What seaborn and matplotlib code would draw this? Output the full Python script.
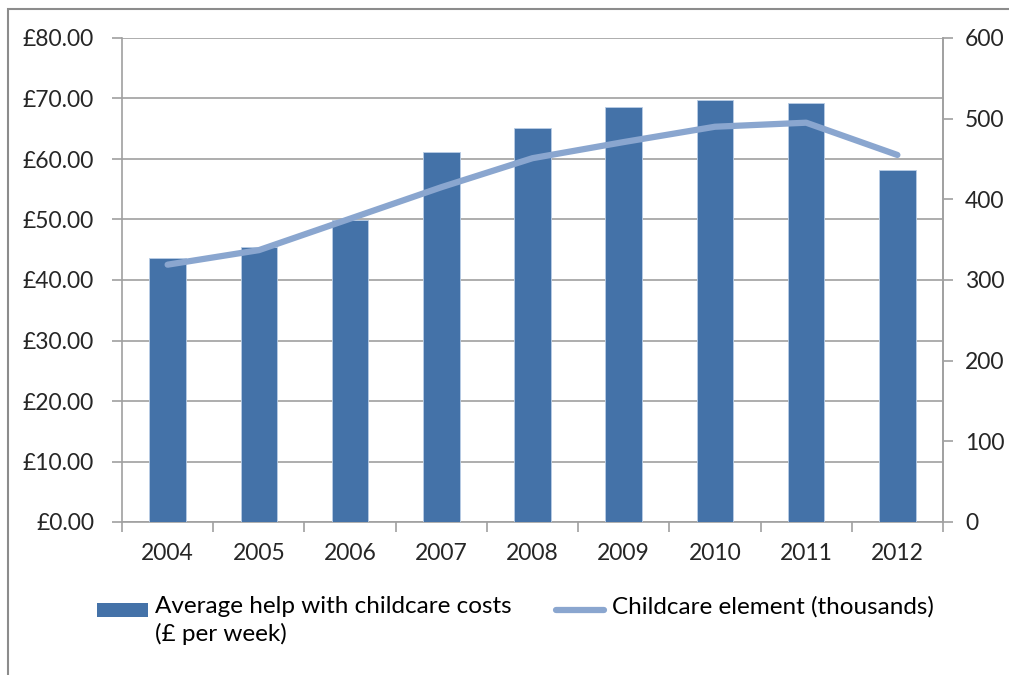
import numpy as np
import pandas as pd
import matplotlib
matplotlib.use("Agg")
import matplotlib.pyplot as plt
from matplotlib.lines import Line2D
from matplotlib.patches import Rectangle
import seaborn as sns

years = ["2004", "2005", "2006", "2007", "2008", "2009", "2010", "2011", "2012"]
avg_help = [43.6, 45.5, 49.9, 61.2, 65.2, 68.6, 69.8, 69.2, 58.2]
childcare_element = [319, 337, 376, 415, 451, 471, 490, 495, 455]

bar_label = "Average help with childcare costs\n(£ per week)"
line_label = "Childcare element (thousands)"

sns.set_theme(style="white")
plt.rcParams["font.family"] = ["Lato", "DejaVu Sans"]

BAR_COLOR = "#4472A8"
LINE_COLOR = "#8AA6CF"
GRID_COLOR = "#A0A0A0"
FS = 16.5
LEG_FS = 17.5

W, H = 1009, 675

df = pd.DataFrame({"year": years, "help": avg_help, "element": childcare_element})
df["pos"] = np.arange(len(df))

fig = plt.figure(figsize=(W / 100, H / 100), dpi=100)
ax = fig.add_axes([122 / W, 1 - 522 / H, (943 - 122) / W, (522 - 38) / H])

sns.barplot(data=df, x="year", y="help", color=BAR_COLOR, width=0.4,
            saturation=1, edgecolor="#B9CDE5", linewidth=0.6, ax=ax, zorder=3)

ax.set_ylim(0, 80)
ax.set_yticks(np.arange(0, 81, 10))
ax.set_yticklabels([f"£{v:.2f}" for v in np.arange(0, 81, 10)])
ax.set_xlim(-0.5, len(years) - 0.5)
ax.yaxis.grid(True, color=GRID_COLOR, linewidth=1.2, zorder=0)
ax.set_axisbelow(True)
ax.set_xlabel("")
ax.set_ylabel("")

for side in ["left", "bottom", "right"]:
    ax.spines[side].set_color(GRID_COLOR)
    ax.spines[side].set_linewidth(1.2)
ax.spines["top"].set_visible(False)

ax.tick_params(axis="y", which="major", direction="out", length=7, width=1.2,
               color=GRID_COLOR, labelsize=FS, pad=13, left=True)
ax.tick_params(axis="x", which="major", length=0, labelsize=FS, pad=15)
ax.set_xticks(np.arange(-0.5, len(years), 1), minor=True)
ax.tick_params(axis="x", which="minor", direction="out", length=7, width=1.2,
               color=GRID_COLOR, bottom=True)

ax2 = ax.twinx()
sns.lineplot(data=df, x="pos", y="element", color=LINE_COLOR, linewidth=4.5,
             solid_capstyle="round", ax=ax2, zorder=4)
ax2.set_ylim(0, 600)
ax2.set_yticks(np.arange(0, 601, 100))
ax2.set_xlim(-0.5, len(years) - 0.5)
ax2.set_xlabel("")
ax2.set_ylabel("")
for side in ["left", "bottom", "top"]:
    ax2.spines[side].set_visible(False)
ax2.spines["right"].set_color(GRID_COLOR)
ax2.spines["right"].set_linewidth(1.2)
ax2.tick_params(axis="y", direction="out", length=7, width=1.2, color=GRID_COLOR,
                labelsize=FS, pad=9, right=True)
ax2.grid(False)

# Outer chart frame
fig.patches.append(Rectangle((8 / W, -0.05), 1.1, 1 - 9 / H + 0.05,
                             transform=fig.transFigure, fill=False,
                             edgecolor="#8C8C8C", linewidth=1.5))

# Legend below the plot area
fig.patches.append(Rectangle((97 / W, 1 - 617 / H), 51 / W, 14 / H,
                             transform=fig.transFigure, facecolor=BAR_COLOR,
                             edgecolor="none"))
fig.text(155 / W, 1 - 596 / H, bar_label, fontsize=LEG_FS, va="top", ha="left",
         linespacing=1.35, color="black")
fig.lines.append(Line2D([556 / W, 604 / W], [1 - 610 / H, 1 - 610 / H],
                        transform=fig.transFigure, color=LINE_COLOR,
                        linewidth=4.5, solid_capstyle="round"))
fig.text(612 / W, 1 - 596 / H, line_label, fontsize=LEG_FS, va="top", ha="left",
         color="black")

fig.savefig("out.png", dpi=100)
